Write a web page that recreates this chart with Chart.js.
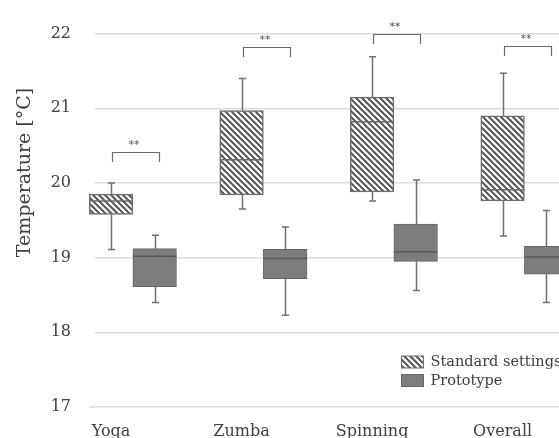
<!DOCTYPE html>
<html>
<head>
<meta charset="utf-8">
<script src="https://cdn.jsdelivr.net/npm/chart.js@4"></script>
<style>
  html, body { margin: 0; padding: 0; overflow: hidden; background: #fff; }
  #wrap { width: 604px; height: 443px; }
</style>
</head>
<body>
<div id="wrap"><canvas id="boxChart" width="604" height="443"></canvas></div>
<script>
const categories = ['Yoga', 'Zumba', 'Spinning', 'Overall'];

// Standard settings (hatched)
const standardMin = [19.11, 19.65, 19.76, 19.29];
const standardQ1 = [19.58, 19.84, 19.88, 19.76];
const standardMedian = [19.76, 20.31, 20.82, 19.91];
const standardQ3 = [19.85, 20.97, 21.15, 20.90];
const standardMax = [20.00, 21.40, 21.69, 21.47];

// Prototype (solid gray)
const prototypeMin = [18.40, 18.23, 18.56, 18.40];
const prototypeQ1 = [18.61, 18.72, 18.95, 18.78];
const prototypeMedian = [19.02, 18.99, 19.08, 19.01];
const prototypeQ3 = [19.12, 19.11, 19.45, 19.15];
const prototypeMax = [19.30, 19.41, 20.04, 19.63];

// significance brackets
const significance = ['**', '**', '**', '**'];
const bracketLevels = [20.42, 21.82, 22.0, 21.83];

const yTicks = [17, 18, 19, 20, 21, 22];

const serif = 'DejaVu Serif';
const textColor = '#404040';

// diagonal hatch pattern
function makeHatch() {
    const s = 6;
    const c = document.createElement('canvas');
    c.width = s; c.height = s;
    const g = c.getContext('2d');
    g.fillStyle = '#ffffff';
    g.fillRect(0, 0, s, s);
    g.strokeStyle = '#555555';
    g.lineWidth = 2;
    g.beginPath();
    g.moveTo(0, 0); g.lineTo(s, s);
    g.moveTo(-1, s - 1); g.lineTo(1, s + 1);
    g.moveTo(s - 1, -1); g.lineTo(s + 1, 1);
    g.stroke();
    return g.createPattern(c, 'repeat');
}
const hatch = makeHatch();

const boxes = [
    { min: standardMin, q1: standardQ1, med: standardMedian, q3: standardQ3, max: standardMax, line: '#6a6a6a' },
    { min: prototypeMin, q1: prototypeQ1, med: prototypeMedian, q3: prototypeQ3, max: prototypeMax, line: '#5a5a5a' }
];

const boxPlotPlugin = {
    id: 'boxPlot',
    beforeDatasetsDraw(chart) {
        const ctx = chart.ctx;
        const y = chart.scales.y;
        ctx.save();
        // x axis base line runs a little past the plot on the left
        ctx.strokeStyle = '#dcdcdc';
        ctx.lineWidth = 1.5;
        const base = y.getPixelForValue(y.min);
        ctx.beginPath();
        ctx.moveTo(chart.chartArea.left - 6, base);
        ctx.lineTo(chart.chartArea.left, base);
        ctx.stroke();
        // whiskers
        ctx.strokeStyle = '#707070';
        ctx.lineWidth = 1.5;
        boxes.forEach((b, d) => {
            chart.getDatasetMeta(d).data.forEach((bar, i) => {
                const x = Math.round(bar.x) + 0.5;
                const pairs = [[b.q3[i], b.max[i]], [b.q1[i], b.min[i]]];
                pairs.forEach(([from, to]) => {
                    ctx.beginPath();
                    ctx.moveTo(x, y.getPixelForValue(from));
                    ctx.lineTo(x, y.getPixelForValue(to));
                    ctx.moveTo(x - 3.5, y.getPixelForValue(to));
                    ctx.lineTo(x + 3.5, y.getPixelForValue(to));
                    ctx.stroke();
                });
            });
        });
        ctx.restore();
    },
    afterDatasetsDraw(chart) {
        const ctx = chart.ctx;
        const y = chart.scales.y;
        ctx.save();
        // medians
        boxes.forEach((b, d) => {
            ctx.strokeStyle = b.line;
            ctx.lineWidth = 1.5;
            chart.getDatasetMeta(d).data.forEach((bar, i) => {
                const py = y.getPixelForValue(b.med[i]);
                ctx.beginPath();
                ctx.moveTo(bar.x - bar.width / 2, py);
                ctx.lineTo(bar.x + bar.width / 2, py);
                ctx.stroke();
            });
        });
        // significance brackets
        const stdBars = chart.getDatasetMeta(0).data;
        const proBars = chart.getDatasetMeta(1).data;
        ctx.strokeStyle = '#6a6a6a';
        ctx.lineWidth = 1.2;
        ctx.fillStyle = '#505050';
        ctx.font = '11px "DejaVu Sans"';
        ctx.textAlign = 'center';
        ctx.textBaseline = 'middle';
        significance.forEach((s, i) => {
            const x1 = Math.round(stdBars[i].x + 1) + 0.5;
            const x2 = Math.round(proBars[i].x + 4.5) + 0.5;
            const top = Math.round(y.getPixelForValue(bracketLevels[i])) + 0.5;
            ctx.beginPath();
            ctx.moveTo(x1, top + 9.5);
            ctx.lineTo(x1, top);
            ctx.lineTo(x2, top);
            ctx.lineTo(x2, top + 9.5);
            ctx.stroke();
            ctx.fillText(s, (x1 + x2) / 2 - 2, top - 7);
        });
        ctx.restore();
    },
    afterDraw(chart) {
        const ctx = chart.ctx;
        ctx.save();
        // y axis title
        ctx.fillStyle = textColor;
        ctx.font = '19px "' + serif + '"';
        ctx.textAlign = 'center';
        ctx.textBaseline = 'middle';
        ctx.translate(25, 172.5);
        ctx.rotate(-Math.PI / 2);
        ctx.fillText('Temperature [°C]', 0, 0);
        ctx.restore();

        // legend
        ctx.save();
        const items = chart.data.datasets;
        items.forEach((ds, i) => {
            const top = 356 + i * 18.5;
            ctx.fillStyle = ds.backgroundColor;
            ctx.fillRect(401.5, top, 22, 12);
            ctx.strokeStyle = ds.borderColor;
            ctx.lineWidth = 1;
            ctx.strokeRect(401.5, top, 22, 12);
            ctx.fillStyle = textColor;
            ctx.font = '14.5px "' + serif + '"';
            ctx.textAlign = 'left';
            ctx.textBaseline = 'middle';
            ctx.fillText(ds.label, 430.5, top + 6.5);
        });
        ctx.restore();
    }
};

const ctx = document.getElementById('boxChart').getContext('2d');
const boxChart = new Chart(ctx, {
    type: 'bar',
    data: {
        datasets: [{
            label: 'Standard settings',
            data: categories.map((c, i) => ({ x: i, y: [standardQ1[i], standardQ3[i]] })),
            backgroundColor: hatch,
            borderColor: '#6e6e6e',
            borderWidth: 1.5,
            borderSkipped: false,
            barThickness: 43.6,
            clip: false
        }, {
            label: 'Prototype',
            data: categories.map((c, i) => ({ x: i, y: [prototypeQ1[i], prototypeQ3[i]] })),
            backgroundColor: '#7d7d7d',
            borderColor: '#666666',
            borderWidth: 1,
            borderSkipped: false,
            barThickness: 43.6,
            clip: false
        }]
    },
    options: {
        responsive: false,
        animation: false,
        layout: { padding: { top: 14.7, left: 0, right: 0, bottom: 0 } },
        scales: {
            x: {
                type: 'linear',
                offset: false,
                min: -0.29,
                max: 3.61,
                grid: { display: false },
                border: { display: false },
                afterFit: (s) => { s.height = 36; },
                ticks: {
                    stepSize: 1,
                    includeBounds: false,
                    labelOffset: -21.8,
                    padding: 7.5,
                    color: textColor,
                    font: { family: serif, size: 16 },
                    callback: (v) => categories[v] !== undefined ? categories[v] : ''
                }
            },
            y: {
                min: 17,
                max: 22,
                afterFit: (s) => { s.width = 95; },
                afterBuildTicks: (s) => { s.ticks = yTicks.map(v => ({ value: v })); },
                grid: { color: '#dcdcdc', lineWidth: 1.5, drawTicks: false },
                border: { display: false },
                ticks: {
                    padding: 24,
                    color: textColor,
                    font: { family: serif, size: 16 }
                }
            }
        },
        plugins: {
            legend: { display: false },
            tooltip: { enabled: false }
        }
    },
    plugins: [boxPlotPlugin]
});
</script>
</body>
</html>
